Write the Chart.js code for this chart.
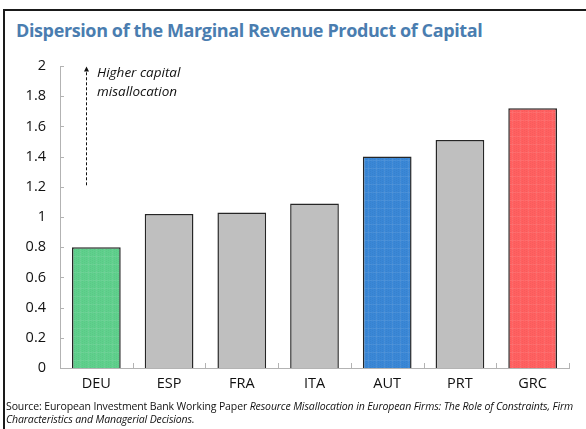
<!DOCTYPE html>
<html>
<head>
<meta charset="utf-8">
<script src="https://cdn.jsdelivr.net/npm/chart.js@4.4.1/dist/chart.umd.min.js"></script>
<style>
  html, body { margin: 0; padding: 0; background: #fff; overflow: hidden; }
  body { width: 586px; height: 429px; position: relative; font-family: "Open Sans", sans-serif; }
  #frame { position: absolute; left: 3px; top: 9px; width: 700px; height: 600px; border: 2px solid #1a1a1a; }
  #title { position: absolute; left: 16px; top: 18px; font-family: "Open Sans", sans-serif; font-weight: bold;
           font-size: 18px; color: #4a7db0; letter-spacing: -0.38px; white-space: nowrap; }
  #chartBox { position: absolute; left: 0; top: 0; width: 586px; height: 429px; }
  #source { position: absolute; left: 6px; top: 400px; width: 580px; font-size: 10.5px; line-height: 13px;
            color: #111; letter-spacing: -0.12px; }
</style>
</head>
<body>
<div id="frame"></div>
<div id="title">Dispersion of the Marginal Revenue Product of Capital</div>
<div id="chartBox"><canvas id="chart" width="586" height="429"></canvas></div>
<div id="source">Source: European Investment Bank Working Paper <i>Resource Misallocation in European Firms: The Role of Constraints, Firm Characteristics and Managerial Decisions.</i></div>
<script>
const countries = ['DEU', 'ESP', 'FRA', 'ITA', 'AUT', 'PRT', 'GRC'];
const mrpkDispersion = [0.80, 1.02, 1.03, 1.09, 1.40, 1.51, 1.72];
const barColors = ['#5fd08c', '#bfbfbf', '#bfbfbf', '#bfbfbf', '#3a87d6', '#bfbfbf', '#ff6060'];
const patterned = [true, false, false, false, true, false, true];
const yTicks = [0, 0.2, 0.4, 0.6, 0.8, 1, 1.2, 1.4, 1.6, 1.8, 2];
const noteLines = ['Higher capital', 'misallocation'];

// small checked texture used on the highlighted bars
function makePattern(color) {
  const tile = document.createElement('canvas');
  tile.width = 8;
  tile.height = 8;
  const c = tile.getContext('2d');
  c.fillStyle = color;
  c.fillRect(0, 0, 8, 8);
  c.fillStyle = 'rgba(255,255,255,0.08)';
  c.fillRect(0, 0, 8, 1);
  c.fillRect(0, 0, 1, 8);
  c.fillStyle = 'rgba(0,0,0,0.04)';
  for (let i = 0; i < 8; i += 2) {
    for (let j = (i / 2) % 2; j < 8; j += 2) c.fillRect(i, j, 1, 1);
  }
  return c.createPattern(tile, 'repeat');
}

const ctx = document.getElementById('chart').getContext('2d');
const fills = barColors.map((col, i) => patterned[i] ? makePattern(col) : col);

// short ticks pointing into the plot, plus the dashed arrow note
const innerTicks = {
  id: 'innerTicks',
  afterDatasetsDraw(chart) {
    const c = chart.ctx;
    const x = chart.scales.x;
    const y = chart.scales.y;
    const area = chart.chartArea;
    c.save();
    c.strokeStyle = '#b3b3b3';
    c.lineWidth = 1;
    c.beginPath();
    yTicks.forEach(v => {
      const py = Math.round(y.getPixelForValue(v)) + 0.5;
      c.moveTo(area.left, py);
      c.lineTo(area.left + 4, py);
    });
    for (let i = 0; i < countries.length; i++) {
      const px = Math.round(x.getPixelForValue(i) + (x.getPixelForValue(1) - x.getPixelForValue(0)) / 2) + 0.5;
      c.moveTo(px, area.bottom);
      c.lineTo(px, area.bottom - 5);
    }
    c.stroke();

    // arrow
    const ax = area.left + 26.5;
    const top = y.getPixelForValue(1.99);
    const bottom = y.getPixelForValue(1.21);
    c.strokeStyle = '#111';
    c.setLineDash([3, 2]);
    c.beginPath();
    c.moveTo(ax, bottom);
    c.lineTo(ax, top + 3);
    c.stroke();
    c.setLineDash([]);
    c.fillStyle = '#111';
    c.beginPath();
    c.moveTo(ax, top - 1);
    c.lineTo(ax - 2.5, top + 4);
    c.lineTo(ax + 2.5, top + 4);
    c.closePath();
    c.fill();

    c.font = 'italic 13.5px "Open Sans"';
    c.textBaseline = 'middle';
    c.textAlign = 'left';
    c.fillText(noteLines[0], area.left + 37, y.getPixelForValue(1.95));
    c.fillText(noteLines[1], area.left + 37, y.getPixelForValue(1.83));
    c.restore();
  }
};

new Chart(ctx, {
  type: 'bar',
  data: {
    labels: countries,
    datasets: [{
      data: mrpkDispersion,
      backgroundColor: fills,
      borderColor: '#262626',
      borderWidth: 1.5,
      borderSkipped: 'bottom',
      categoryPercentage: 1,
      barPercentage: 0.67
    }]
  },
  options: {
    responsive: false,
    animation: false,
    layout: { padding: { left: 0, right: 17, top: 66, bottom: 31 } },
    plugins: {
      legend: { display: false },
      tooltip: { enabled: false }
    },
    scales: {
      x: {
        grid: { display: false, drawTicks: false },
        border: { color: '#b3b3b3', width: 1 },
        ticks: { color: '#111', padding: 7, font: { family: 'Open Sans', size: 14.5 } },
        afterFit: s => { s.height = 30; }
      },
      y: {
        min: 0,
        max: 2,
        afterBuildTicks: s => { s.ticks = yTicks.map(v => ({ value: v })); },
        grid: { display: false, drawTicks: false },
        border: { color: '#b3b3b3', width: 1 },
        ticks: {
          color: '#111',
          padding: 14,
          font: { family: 'Open Sans', size: 14.5 },
          callback: v => String(v)
        },
        afterFit: s => { s.width = 60; }
      }
    }
  },
  plugins: [innerTicks]
});
</script>
</body>
</html>
